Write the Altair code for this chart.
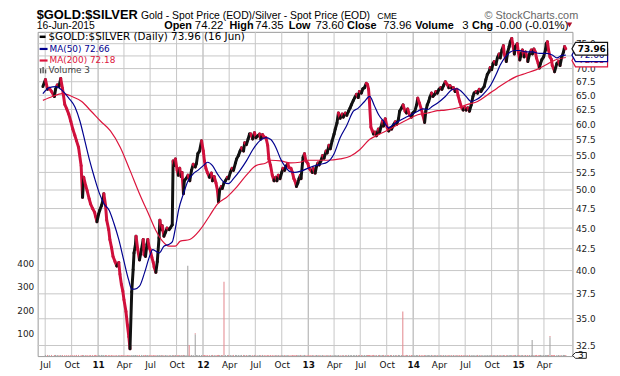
import altair as alt
import pandas as pd

# ---------------- data ----------------
price_dates = [
"2010-06-23","2010-07-02","2010-07-09","2010-07-15","2010-07-23","2010-08-02","2010-08-06","2010-08-12","2010-08-18","2010-08-24",
"2010-08-30","2010-09-07","2010-09-14","2010-09-21","2010-09-28","2010-10-05","2010-10-12","2010-10-18","2010-10-25","2010-11-03",
"2010-11-08","2010-11-12","2010-11-19","2010-11-24","2010-12-01","2010-12-06","2010-12-13","2010-12-20","2010-12-23","2010-12-28",
"2011-01-03","2011-01-07","2011-01-13","2011-01-18","2011-01-21","2011-01-27","2011-01-31","2011-02-07","2011-02-11","2011-02-17",
"2011-02-22","2011-03-01","2011-03-07","2011-03-14","2011-03-18","2011-03-23","2011-03-28","2011-04-01","2011-04-08","2011-04-13",
"2011-04-18","2011-04-22","2011-04-28","2011-05-03","2011-05-06","2011-05-11","2011-05-13","2011-05-19","2011-05-25","2011-06-01",
"2011-06-07","2011-06-10","2011-06-15","2011-06-20","2011-06-23","2011-06-28","2011-07-01","2011-07-07","2011-07-12","2011-07-15",
"2011-07-21","2011-07-26","2011-08-01","2011-08-04","2011-08-09","2011-08-12","2011-08-18","2011-08-24","2011-08-29","2011-09-05",
"2011-09-09","2011-09-16","2011-09-19","2011-09-22","2011-09-27","2011-10-03","2011-10-07","2011-10-12","2011-10-17","2011-10-20",
"2011-10-25","2011-10-28","2011-11-03","2011-11-10","2011-11-16","2011-11-22","2011-11-28","2011-12-05","2011-12-09","2011-12-14",
"2011-12-20","2011-12-27","2012-01-02","2012-01-06","2012-01-11","2012-01-16","2012-01-23","2012-01-30","2012-02-03","2012-02-09",
"2012-02-15","2012-02-20","2012-02-24","2012-02-28","2012-03-05","2012-03-08","2012-03-14","2012-03-19","2012-03-26","2012-03-30",
"2012-04-05","2012-04-11","2012-04-16","2012-04-23","2012-04-27","2012-05-03","2012-05-09","2012-05-14","2012-05-21","2012-05-25",
"2012-05-31","2012-06-06","2012-06-11","2012-06-15","2012-06-22","2012-06-28","2012-07-03","2012-07-10","2012-07-16","2012-07-20",
"2012-07-26","2012-08-01","2012-08-07","2012-08-13","2012-08-17","2012-08-23","2012-08-29","2012-09-04","2012-09-10","2012-09-14",
"2012-09-19","2012-09-25","2012-10-01","2012-10-05","2012-10-11","2012-10-16","2012-10-22","2012-10-26","2012-11-02","2012-11-07",
"2012-11-12","2012-11-16","2012-11-21","2012-11-26","2012-11-30","2012-12-05","2012-12-07","2012-12-14","2012-12-19","2012-12-24",
"2012-12-31","2013-01-04","2013-01-10","2013-01-15","2013-01-18","2013-01-25","2013-01-30","2013-02-04","2013-02-08","2013-02-14",
"2013-02-20","2013-02-25","2013-03-04","2013-03-08","2013-03-14","2013-03-19","2013-03-25","2013-04-01","2013-04-05","2013-04-11",
"2013-04-16","2013-04-22","2013-04-29","2013-05-03","2013-05-10","2013-05-15","2013-05-21","2013-05-27","2013-05-31","2013-06-07",
"2013-06-12","2013-06-18","2013-06-24","2013-06-28","2013-07-05","2013-07-10","2013-07-16","2013-07-22","2013-07-26","2013-07-30",
"2013-08-02","2013-08-07","2013-08-12","2013-08-16","2013-08-21","2013-08-26","2013-09-02","2013-09-06","2013-09-11","2013-09-16",
"2013-09-20","2013-09-26","2013-10-03","2013-10-08","2013-10-14","2013-10-18","2013-10-25","2013-10-31","2013-11-05","2013-11-11",
"2013-11-15","2013-11-22","2013-11-27","2013-12-04","2013-12-09","2013-12-13","2013-12-20","2013-12-26","2013-12-31","2014-01-07",
"2014-01-13","2014-01-17","2014-01-23","2014-01-29","2014-02-04","2014-02-10","2014-02-14","2014-02-19","2014-02-24","2014-02-28",
"2014-03-06","2014-03-11","2014-03-17","2014-03-21","2014-03-26","2014-04-01","2014-04-07","2014-04-11","2014-04-17","2014-04-23",
"2014-04-29","2014-05-05","2014-05-09","2014-05-15","2014-05-21","2014-05-27","2014-06-02","2014-06-06","2014-06-12","2014-06-18",
"2014-06-24","2014-06-30","2014-07-04","2014-07-10","2014-07-16","2014-07-22","2014-07-28","2014-08-01","2014-08-08","2014-08-13",
"2014-08-19","2014-08-25","2014-08-29","2014-09-05","2014-09-11","2014-09-16","2014-09-22","2014-09-26","2014-10-01","2014-10-06",
"2014-10-10","2014-10-16","2014-10-21","2014-10-27","2014-10-31","2014-11-06","2014-11-11","2014-11-14","2014-11-21","2014-11-26",
"2014-12-01","2014-12-05","2014-12-10","2014-12-15","2014-12-19","2014-12-23","2014-12-29","2015-01-02","2015-01-07","2015-01-12",
"2015-01-16","2015-01-22","2015-01-27","2015-02-02","2015-02-04","2015-02-10","2015-02-16","2015-02-20","2015-02-25","2015-03-02",
"2015-03-06","2015-03-12","2015-03-16","2015-03-20","2015-03-25","2015-03-31","2015-04-06","2015-04-09","2015-04-13","2015-04-17",
"2015-04-22","2015-04-27","2015-04-30","2015-05-05","2015-05-08","2015-05-16","2015-05-22","2015-05-27","2015-06-02","2015-06-08",
"2015-06-12","2015-06-16",
]
price_vals = [
66.6,67.9,66.1,66.3,65.7,64.8,66.1,66.9,66.6,68.1,
66.3,63.4,62.6,61.7,60.5,59.2,58.2,57.3,56.3,53.5,
49.0,51.8,50.6,49.9,48.8,48.1,47.5,47.0,46.5,45.8,
46.8,47.3,47.9,48.6,49.5,47.9,46.0,44.8,43.6,42.6,
41.6,41.0,40.5,40.9,39.6,38.5,37.8,36.9,35.7,34.4,
33.3,32.2,37.7,40.1,42.0,43.0,44.0,42.4,41.2,42.4,
43.6,41.8,41.6,43.0,43.6,42.6,42.4,41.5,40.9,40.4,
39.8,41.0,43.8,46.0,44.8,45.3,44.0,44.5,45.0,44.8,
45.0,45.4,54.2,53.5,54.5,52.8,52.1,53.1,51.9,52.5,
49.5,51.3,51.6,52.1,51.3,52.8,53.7,53.3,53.8,55.3,
55.7,57.3,55.7,54.2,53.1,52.5,51.8,52.4,51.3,51.9,
51.0,50.0,48.4,50.0,50.5,50.2,51.0,51.3,51.8,51.6,
52.5,53.1,52.8,53.9,54.5,55.0,55.7,56.2,55.7,57.0,
56.7,57.6,58.4,58.4,57.6,58.6,57.8,58.1,58.4,57.6,
58.3,57.9,57.8,56.6,54.5,53.5,52.1,51.3,51.8,51.3,
52.1,51.6,52.5,53.1,52.8,53.4,53.8,53.2,53.1,52.5,
51.6,51.3,50.5,51.0,51.6,52.1,51.6,54.7,55.3,54.2,
53.8,53.1,52.8,52.5,53.1,52.4,53.4,53.9,53.6,54.2,
55.0,54.6,55.7,55.4,56.6,56.05,57.3,58.4,59.2,60.2,
61.9,61.0,61.7,61.2,61.9,61.5,62.2,62.8,63.3,64.1,
64.6,65.2,64.6,65.7,65.4,66.2,66.4,67.2,67.0,66.1,
63.9,59.5,58.9,58.4,58.7,58.1,59.2,58.6,59.5,60.5,
59.7,60.9,59.4,58.9,59.4,59.2,59.9,60.4,60.0,60.9,
62.2,62.8,63.3,62.2,61.9,62.6,61.5,61.2,61.9,62.2,
63.3,64.5,63.6,62.6,61.5,60.3,62.2,63.3,63.9,64.6,
65.4,64.8,65.2,65.7,65.4,66.1,66.4,66.1,66.8,67.5,
67.0,66.4,66.8,66.3,66.4,65.7,66.1,65.0,63.9,62.9,
62.4,62.9,62.4,62.8,62.2,63.3,64.8,65.4,65.7,65.4,
66.1,65.7,66.1,66.6,67.9,68.9,69.4,70.2,69.8,71.0,
71.4,70.8,72.1,72.9,72.1,73.7,74.6,72.9,71.4,73.3,
74.4,75.4,76.1,74.4,72.9,74.4,75.0,73.3,71.7,72.9,
73.7,72.3,73.3,72.3,71.4,72.9,73.7,72.9,73.9,73.3,
72.1,71.0,70.1,71.0,71.8,72.3,73.7,75.0,75.4,73.7,
72.3,71.8,70.6,70.0,69.4,71.0,71.4,70.6,72.3,73.3,
74.4,73.96,
]

ma50_dates = [
"2010-06-23","2010-07-15","2010-08-07","2010-08-29","2010-09-21","2010-10-13","2010-10-30","2010-11-16","2010-12-03","2010-12-19",
"2011-01-06","2011-01-22","2011-02-08","2011-02-25","2011-03-14","2011-03-31","2011-04-17","2011-04-28","2011-05-09","2011-05-25",
"2011-06-12","2011-06-29","2011-07-10","2011-07-21","2011-08-02","2011-08-18","2011-09-04","2011-09-16","2011-09-27","2011-10-08",
"2011-10-25","2011-11-10","2011-11-28","2011-12-14","2012-01-02","2012-01-17","2012-02-03","2012-02-20","2012-03-14","2012-03-30",
"2012-04-16","2012-05-09","2012-05-31","2012-06-22","2012-07-16","2012-08-07","2012-08-24","2012-09-10","2012-09-27","2012-10-14",
"2012-10-31","2012-11-16","2012-12-07","2013-01-11","2013-02-14","2013-03-08","2013-04-01","2013-04-22","2013-05-15","2013-06-07",
"2013-06-23","2013-07-16","2013-08-03","2013-08-18","2013-09-03","2013-09-20","2013-10-08","2013-10-25","2013-11-11","2013-12-04",
"2013-12-26","2014-01-17","2014-02-04","2014-02-21","2014-03-09","2014-03-26","2014-04-23","2014-05-16","2014-06-02","2014-06-18",
"2014-07-04","2014-07-22","2014-08-08","2014-08-25","2014-09-11","2014-09-28","2014-10-16","2014-10-31","2014-11-18","2014-12-05",
"2014-12-21","2015-01-07","2015-01-29","2015-02-21","2015-03-16","2015-04-07","2015-04-30","2015-05-16","2015-06-02","2015-06-16",
]
ma50_vals = [
65.3,66.4,66.6,65.9,64.5,62.9,60.5,57.3,54.2,51.8,
49.5,48.1,47.3,45.6,43.6,41.2,39.0,38.0,38.0,38.3,
39.8,41.6,42.4,42.2,42.0,42.8,43.0,43.3,45.0,47.3,
49.5,51.3,52.3,52.8,53.5,54.0,53.5,52.3,51.1,50.9,
51.6,52.8,54.2,55.9,57.3,57.8,57.5,56.3,54.5,53.3,
52.6,52.5,52.7,53.3,53.7,54.0,55.3,57.8,59.8,62.2,
62.7,63.9,64.8,63.3,61.6,60.5,59.4,60.0,60.5,61.1,
61.6,62.2,62.6,62.5,63.05,63.6,64.8,66.0,66.2,65.7,
64.8,63.9,64.2,64.8,65.7,66.9,68.8,70.7,72.3,73.3,
73.6,73.6,73.3,73.3,73.0,73.0,72.7,72.1,72.6,72.66,
]

ma200_dates = [
"2010-06-23","2010-07-26","2010-08-29","2010-10-02","2010-11-05","2010-12-08","2011-01-10","2011-02-13","2011-03-19","2011-04-22",
"2011-05-25","2011-06-29","2011-07-21","2011-08-13","2011-09-05","2011-09-27","2011-10-14","2011-11-16","2011-12-20","2012-01-23",
"2012-02-20","2012-03-26","2012-04-27","2012-05-31","2012-07-03","2012-08-07","2012-08-24","2012-09-27","2012-10-31","2012-12-03",
"2012-12-25","2013-01-23","2013-03-08","2013-04-22","2013-05-27","2013-06-29","2013-08-02","2013-09-03","2013-10-08","2013-11-11",
"2013-12-13","2014-01-17","2014-02-21","2014-03-26","2014-04-23","2014-06-07","2014-07-10","2014-08-13","2014-09-17","2014-10-20",
"2014-11-23","2014-12-27","2015-01-29","2015-03-04","2015-04-07","2015-05-10","2015-06-16",
]
ma200_vals = [
64.1,64.8,65.3,64.8,63.9,62.2,60.5,58.9,56.3,52.8,
49.5,46.5,44.7,43.4,42.8,42.8,43.4,43.6,44.7,46.5,
48.1,49.1,50.4,52.1,53.5,53.9,54.3,54.2,53.9,54.0,
54.3,54.3,54.3,54.5,54.9,55.9,57.5,58.3,59.1,60.0,
60.8,61.6,61.9,62.3,62.4,62.8,63.4,63.9,65.1,66.3,
67.5,68.5,69.1,69.75,70.7,71.7,72.18,
]

vol_dates = ["2011-11-09","2011-11-14","2011-12-05","2012-03-14","2013-11-26","2015-02-19","2015-04-22"]
vol_vals = [392, 48, 94, 318, 194, 70, 82]
vol_dirs = ["up", "down", "up", "down", "down", "up", "up"]
base_volume = 5

y_ticks = [32.5, 35.0, 37.5, 40.0, 42.5, 45.0, 47.5, 50.0, 52.5, 55.0, 57.5, 60.0, 62.5, 65.0, 67.5, 70.0, 72.5, 75.0]
vol_ticks = [100, 200, 300, 400]
quarter_ticks = ["2010-07-01","2010-10-01","2011-01-01","2011-04-01","2011-07-01","2011-10-01","2012-01-01","2012-04-01",
                 "2012-07-01","2012-10-01","2013-01-01","2013-04-01","2013-07-01","2013-10-01","2014-01-01","2014-04-01",
                 "2014-07-01","2014-10-01","2015-01-01","2015-04-01"]
x_start, x_end = "2010-06-22", "2015-06-22"

last_close, last_ma50, last_ma200, last_vol = 73.96, 72.66, 72.18, 3

# ---------------- tables ----------------
def dt(s):
    y, m, d = (int(p) for p in s.split("-"))
    return alt.DateTime(year=y, month=m, date=d, utc=True)

seg = pd.DataFrame({"d1": price_dates[:-1], "d2": price_dates[1:],
                    "v1": price_vals[:-1], "v2": price_vals[1:]})
seg["dir"] = ["up" if b >= a else "down" for a, b in zip(seg.v1, seg.v2)]

ma50 = pd.DataFrame({"d": ma50_dates, "v": ma50_vals})
ma200 = pd.DataFrame({"d": ma200_dates, "v": ma200_vals})

vol_base = pd.DataFrame({"d": seg.d2, "vol": base_volume, "dir": seg.dir})
vol_spk = pd.DataFrame({"d": vol_dates, "vol": vol_vals, "dir": vol_dirs})
vol = pd.concat([vol_base, vol_spk], ignore_index=True)

grid_q = pd.DataFrame({"q": [s for s in quarter_ticks if not s.endswith("-01-01")]})
grid_y = pd.DataFrame({"yr": [s for s in quarter_ticks if s.endswith("-01-01")]})
grid_h = pd.DataFrame({"h": y_ticks})

RED = "#d0103c"
NAVY = "#00008f"
CRIMSON = "#dc143c"
FONT = "DejaVu Sans"
ARIAL = "Liberation Sans"

x_scale = alt.Scale(domain=[dt(x_start), dt(x_end)])
is_year = "utcmonth(datum.value) === 0"
x_axis = alt.Axis(
    values=[dt(s) for s in quarter_ticks],
    labelExpr="utcmonth(datum.value) === 0 ? utcFormat(datum.value, '%y') : utcFormat(datum.value, '%b')",
    title=None, ticks=False, domain=False, grid=False, labelPadding=5, labelFlush=False,
    labelFont=FONT, labelColor="#111", labelFontSize=9,
    labelFontWeight={"condition": {"test": is_year, "value": "bold"}, "value": "normal"},
)
price_scale = alt.Scale(type="log", domain=[31.56, 77.5], nice=False)
price_axis = alt.Axis(orient="right", values=y_ticks, format=".1f", title=None, grid=False,
                      ticks=False, domain=False, labelPadding=3,
                      labelFont=FONT, labelFontSize=9, labelColor="#222")
vol_scale = alt.Scale(domain=[0, 1408], nice=False)
vol_axis = alt.Axis(orient="left", values=vol_ticks, title=None, grid=False, ticks=False,
                    domain=False, labelPadding=4, labelFont=FONT, labelFontSize=9, labelColor="#222")

# ---------------- grid (drawn from the tick lists) ----------------
gq = alt.Chart(grid_q).mark_rule(color="#c6c6c6", strokeWidth=1, opacity=1).encode(
    x=alt.X("q:T", scale=x_scale, axis=None))
gy = alt.Chart(grid_y).mark_rule(color="#a8a8a8", strokeWidth=1, opacity=1).encode(
    x=alt.X("yr:T", scale=x_scale, axis=None))
gh = alt.Chart(grid_h).mark_rule(color="#c6c6c6", strokeWidth=1, opacity=1).encode(
    y=alt.Y("h:Q", scale=price_scale, axis=None))

# ---------------- volume ----------------
vol_bars = alt.Chart(vol).mark_bar(width=1.1).encode(
    x=alt.X("d:T", scale=x_scale, axis=x_axis),
    y=alt.Y("vol:Q", scale=vol_scale, axis=vol_axis),
    color=alt.Color("dir:N", scale=alt.Scale(domain=["up", "down"], range=["#a6a6a6", "#e58f95"]), legend=None),
)
vol_tag_df = pd.DataFrame({"vol": [last_vol], "t": [str(last_vol)]})
vol_tag = alt.Chart(vol_tag_df).mark_point(
    shape="M-1,0L-0.55,-0.42L1,-0.42L1,0.42L-0.55,0.42Z", size=196, filled=True,
    fill="white", stroke="#222", strokeWidth=1, opacity=1
).encode(x=alt.value(548), y=alt.Y("vol:Q", scale=vol_scale, axis=None))
vol_tag_txt = alt.Chart(vol_tag_df).mark_text(font=FONT, fontSize=9, color="#111").encode(
    x=alt.value(549.5), y=alt.Y("vol:Q", scale=vol_scale, axis=None), text="t:N")

# ---------------- price ----------------
price_seg = alt.Chart(seg).mark_rule(strokeWidth=3, strokeCap="round").encode(
    x=alt.X("d1:T", scale=x_scale, axis=None),
    x2="d2:T",
    y=alt.Y("v1:Q", scale=price_scale, axis=price_axis),
    y2="v2:Q",
    color=alt.Color("dir:N", scale=alt.Scale(domain=["up", "down"], range=["#111111", RED]), legend=None),
)
ma50_line = alt.Chart(ma50).mark_line(color=NAVY, strokeWidth=1.2, interpolate="monotone").encode(
    x=alt.X("d:T", scale=x_scale, axis=None), y=alt.Y("v:Q", scale=price_scale, axis=None))
ma200_line = alt.Chart(ma200).mark_line(color=CRIMSON, strokeWidth=1.2, interpolate="monotone").encode(
    x=alt.X("d:T", scale=x_scale, axis=None), y=alt.Y("v:Q", scale=price_scale, axis=None))

TAG = "M-1,0L-0.8,-0.36L1,-0.36L1,0.36L-0.8,0.36Z"
def tag(value, stroke, txt_color, weight, dy=0):
    df = pd.DataFrame({"v": [value], "t": [f"{value:.2f}"]})
    box = alt.Chart(df).mark_point(shape=TAG, size=1296, filled=True, fill="white",
                                   stroke=stroke, strokeWidth=1.2, opacity=1, yOffset=dy).encode(
        x=alt.value(558.5), y=alt.Y("v:Q", scale=price_scale, axis=None))
    txt = alt.Chart(df).mark_text(font=FONT, fontSize=9, fontWeight=weight, color=txt_color, dy=dy).encode(
        x=alt.value(560.5), y=alt.Y("v:Q", scale=price_scale, axis=None), text="t:N")
    return [box, txt]

# ---------------- texts ----------------
def text(s, x, y, size, weight="normal", color="#000", font=ARIAL, baseline="alphabetic", align="left"):
    return alt.Chart(pd.DataFrame({"t": [s]})).mark_text(
        font=font, fontSize=size, fontWeight=weight, color=color, align=align, baseline=baseline
    ).encode(text="t:N", x=alt.value(x), y=alt.value(y))

def seg_rule(x1, x2, y, color, w):
    return alt.Chart(pd.DataFrame({"a": [0]})).mark_rule(color=color, strokeWidth=w).encode(
        x=alt.value(x1), x2=alt.value(x2), y=alt.value(y))

def vrule(x, y1, y2, color, w):
    return alt.Chart(pd.DataFrame({"a": [0]})).mark_rule(color=color, strokeWidth=w).encode(
        x=alt.value(x), y=alt.value(y1), y2=alt.value(y2))

texts = [
    text("$GOLD:$SILVER", -1, -12.5, 13, "bold"),
    text("Gold - Spot Price (EOD)/Silver - Spot Price (EOD)", 104.5, -13, 10.5),
    text("CME", 343.5, -13, 9),
    text("\u00a9 StockCharts.com", 452, -13, 11, color="#666"),
    text("16-Jun-2015", -1, -3, 10.5),
    text("Open", 128, -3, 11, "bold"), text("74.22", 159, -3, 11.5),
    text("High", 194, -3, 11, "bold"), text("74.35", 220, -3, 11.5),
    text("Low", 254, -3, 11, "bold"), text("73.60", 281, -3, 11.5),
    text("Close", 313, -3, 11, "bold"), text("73.96", 349.5, -3, 11.5),
    text("Volume", 382, -3, 11, "bold"), text("3", 429.5, -3, 11.5),
    text("Chg", 439.5, -3, 11, "bold"), text("-0.00 (-0.01%)", 463.5, -3, 11.5),
    alt.Chart(pd.DataFrame({"a": [0]})).mark_point(shape="triangle-down", size=30, filled=True,
                                                   color="#b0102c", opacity=1).encode(
        x=alt.value(538), y=alt.value(-7)),
    # legend in plot
    seg_rule(2, 8, 5, "#000", 2.5),
    text("$GOLD:$SILVER (Daily) 73.96 (16 Jun)", 11, 5, 10.5, font=FONT, baseline="middle"),
    seg_rule(2, 10, 17.3, NAVY, 2.2),
    text("MA(50) 72.66", 12, 17.3, 9, font=FONT, color=NAVY, baseline="middle"),
    seg_rule(2, 10, 29, CRIMSON, 2.2),
    text("MA(200) 72.18", 12, 29, 9, font=FONT, color=CRIMSON, baseline="middle"),
    vrule(3, 42, 37, "#555", 1.4), vrule(5.5, 42, 35.5, "#555", 1.4), vrule(8, 42, 38, "#555", 1.4),
    text("Volume 3", 11, 39, 9, font=FONT, color="#444", baseline="middle"),
]

layers = [gq, gy, gh, vol_bars, vol_tag, vol_tag_txt, price_seg, ma200_line, ma50_line,
          *tag(last_ma200, CRIMSON, CRIMSON, "normal", 3),
          *tag(last_ma50, NAVY, NAVY, "normal", 0),
          *tag(last_close, "#111", "#000", "bold", 0),
          *texts]

chart = alt.layer(*layers).resolve_scale(
    y="independent", color="independent"
).resolve_axis(x="independent").properties(
    width=541, height=328,
    autosize=alt.AutoSizeParams(type="none"),
    padding={"left": 30, "top": 22, "right": 40, "bottom": 18},
).configure_view(stroke="#9a9a9a", strokeWidth=1)

chart.save("out.html", embed_options={"renderer": "svg", "actions": False})
